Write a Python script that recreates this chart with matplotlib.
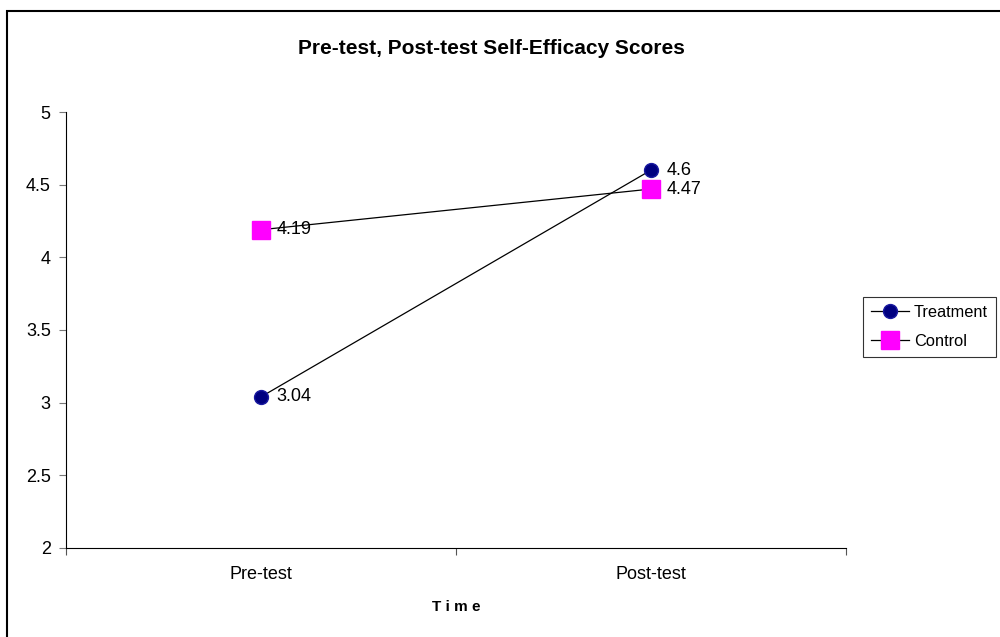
import matplotlib
matplotlib.use("Agg")
import matplotlib.pyplot as plt
from matplotlib.patches import Rectangle

plt.rcParams['font.family'] = ['Liberation Sans', 'DejaVu Sans']

categories = ["Pre-test", "Post-test"]
treatment = [3.04, 4.6]
control = [4.19, 4.47]
treatment_labels = ["3.04", "4.6"]
control_labels = ["4.19", "4.47"]
yticks = [2, 2.5, 3, 3.5, 4, 4.5, 5]
ytick_labels = ["2", "2.5", "3", "3.5", "4", "4.5", "5"]

fig = plt.figure(figsize=(10, 6.37), dpi=100)
# outer chart border (top and left visible)
fig.patches.append(Rectangle((0.007, -0.1), 1.2, 1.1 - 11/637, transform=fig.transFigure,
                             fill=False, edgecolor='black', linewidth=1.5, zorder=0))

ax = fig.add_axes([0.066, 1 - 548/637, 0.78, (548 - 112)/637])
x = [0.5, 1.5]
ax.plot(x, treatment, color='black', linewidth=0.9, marker='o', markersize=10,
        markerfacecolor='#000080', markeredgecolor='#1a1aa0', markeredgewidth=1.0,
        label='Treatment', zorder=3)
ax.plot(x, control, color='black', linewidth=0.9, marker='s', markersize=13,
        markerfacecolor='#FF00FF', markeredgecolor='#FF00FF', label='Control', zorder=2)
for xi, v, t in zip(x, treatment, treatment_labels):
    ax.annotate(t, (xi, v), xytext=(11, 0), textcoords='offset points', va='center',
                fontsize=13, color='black')
for xi, v, t in zip(x, control, control_labels):
    ax.annotate(t, (xi, v), xytext=(11, 0), textcoords='offset points', va='center',
                fontsize=13, color='black')

ax.set_xlim(0, 2)
ax.set_ylim(2, 5)
ax.set_yticks(yticks)
ax.set_yticklabels(ytick_labels, fontsize=13)
ax.set_xticks([0, 1, 2])
ax.set_xticklabels([])
ax.set_xticks(x, minor=True)
ax.set_xticklabels(categories, minor=True, fontsize=13)
ax.tick_params(axis='x', which='minor', length=0, pad=13)
ax.tick_params(axis='x', which='major', length=5, width=0.8, color='#555555')
ax.tick_params(axis='y', length=5, width=0.8, color='#777777', pad=6)
for s in ['top', 'right']:
    ax.spines[s].set_visible(False)
for s in ['left', 'bottom']:
    ax.spines[s].set_linewidth(0.8)
ax.set_xlabel("T i m e", fontsize=11, fontweight='bold', labelpad=12)

fig.text(0.4915, 1 - 48/637, "Pre-test, Post-test Self-Efficacy Scores", ha='center', va='center',
         fontsize=15, fontweight='bold')

handles, labels = ax.get_legend_handles_labels()
leg = fig.legend(handles, labels, loc='upper left', bbox_to_anchor=(0.863, 1 - 297/637),
                 frameon=True, fancybox=False, edgecolor='black', fontsize=11.8,
                 handlelength=2.3, handletextpad=0.3, borderpad=0.5, labelspacing=0.85,
                 borderaxespad=0)
leg.get_frame().set_linewidth(0.8)

fig.savefig("out.png", dpi=100)
